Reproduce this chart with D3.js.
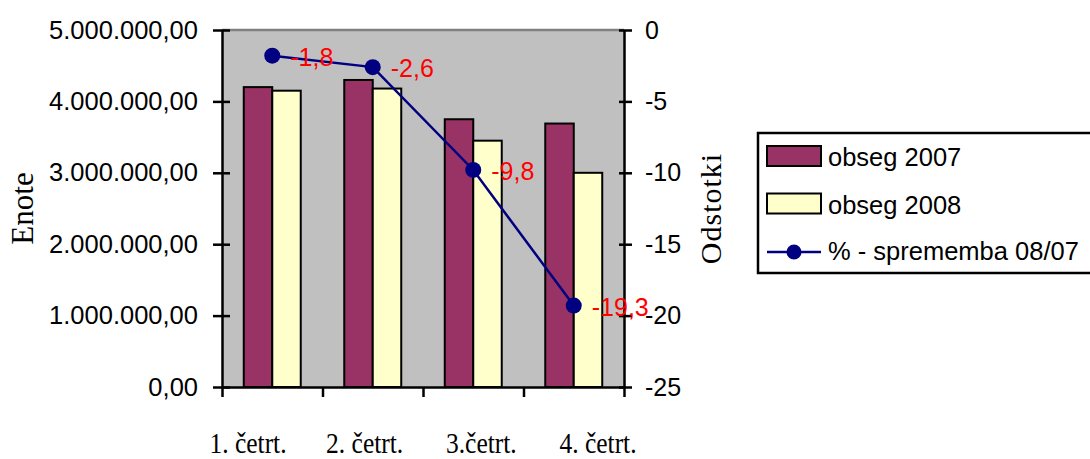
<!DOCTYPE html>
<html>
<head>
<meta charset="utf-8">
<script src="https://cdn.jsdelivr.net/npm/d3@7"></script>
<style>
  body { margin: 0; background: #fff; }
  svg { display: block; }
</style>
</head>
<body>
<svg width="1090" height="459"></svg>
<script>
var categories = ["1. četrt.", "2. četrt.", "3.četrt.", "4. četrt."];
var seriesNames = ["obseg 2007", "obseg 2008"];
var obseg2007 = [4200000, 4300000, 3750000, 3690000];
var obseg2008 = [4150000, 4180000, 3450000, 3000000];
var sprememba = [-1.8, -2.6, -9.8, -19.3];
var lineName = "% - sprememba 08/07";
var leftTicks = [0, 1000000, 2000000, 3000000, 4000000, 5000000];
var rightTicks = [0, -5, -10, -15, -20, -25];

var svg = d3.select("svg"),
    margin = {top: 30, left: 222, right: 466, bottom: 72},
    width = +svg.attr("width") - margin.left - margin.right,
    height = +svg.attr("height") - margin.top - margin.bottom;

var colors = ["#993366", "#ffffcc"];
var navy = "#000080";
var sans = "'Liberation Sans', Arial, sans-serif";
var serif = "'Liberation Serif', 'Times New Roman', serif";

var locale = d3.formatLocale({decimal: ",", thousands: ".", grouping: [3], currency: ["", ""], minus: "-"});
var fmtLeft = locale.format(",.2f");
var fmtPct = locale.format(".1f");

var x0 = d3.scaleBand().domain(categories).range([0, width])
    .paddingInner(0.433).paddingOuter(0.433 / 2);
var x1 = d3.scaleBand().domain(seriesNames).range([0, x0.bandwidth()]);
var xLine = d3.scaleLinear().domain([0, categories.length]).range([0, width]);
var xLabel = d3.scalePoint().domain(categories).range([26, 376]);
var y = d3.scaleLinear().domain([0, 5000000]).range([height, 0]);
var y2 = d3.scaleLinear().domain([-25, 0]).range([height, 0]);

var g = svg.append("g").attr("transform", "translate(" + margin.left + "," + margin.top + ")");

// plot area
g.append("rect")
    .attr("width", width)
    .attr("height", height)
    .attr("fill", "#c0c0c0");
g.append("line")
    .attr("x1", 0).attr("x2", width)
    .attr("stroke", "#808080").attr("stroke-width", 2.5);

// bars
var rows = categories.map(function(c, i) {
    return {cat: c, values: [obseg2007[i], obseg2008[i]]};
});
var groups = g.selectAll(".grp").data(rows).enter().append("g")
    .attr("class", "grp")
    .attr("transform", function(d) { return "translate(" + x0(d.cat) + ",0)"; });
groups.selectAll("rect")
    .data(function(d) { return d.values.map(function(v, j) { return {name: seriesNames[j], v: v, j: j}; }); })
    .enter().append("rect")
    .attr("x", function(d) { return x1(d.name); })
    .attr("y", function(d) { return y(d.v); })
    .attr("width", x1.bandwidth())
    .attr("height", function(d) { return height - y(d.v); })
    .attr("fill", function(d) { return colors[d.j]; })
    .attr("stroke", "#000")
    .attr("stroke-width", 2);

// left axis
var axL = g.append("g")
    .call(d3.axisLeft(y).tickValues(leftTicks).tickFormat(fmtLeft).tickSize(9).tickSizeOuter(0).tickPadding(15));
axL.select(".domain").attr("stroke-width", 2.5);
axL.selectAll(".tick line").attr("x1", 8).attr("stroke-width", 2.5);
axL.selectAll("text").attr("font-family", sans).attr("font-size", "25.5px").attr("fill", "#000");

// right axis
var axR = g.append("g")
    .attr("transform", "translate(" + width + ",0)")
    .call(d3.axisRight(y2).tickValues(rightTicks).tickFormat(function(d) { return String(d); })
        .tickSize(8).tickSizeOuter(0).tickPadding(13));
axR.select(".domain").attr("stroke-width", 2.5);
axR.selectAll(".tick line").attr("x1", -5).attr("stroke-width", 2.5);
axR.selectAll("text").attr("font-family", sans).attr("font-size", "25px").attr("fill", "#000");

// bottom axis
var axB = g.append("g")
    .attr("transform", "translate(0," + height + ")")
    .call(d3.axisBottom(xLine).tickValues(d3.range(categories.length + 1)).tickFormat("").tickSize(10).tickSizeOuter(0));
axB.select(".domain").attr("stroke-width", 2.5);
axB.selectAll(".tick line").attr("stroke-width", 2.5);

// category labels
g.selectAll(".catlab").data(categories).enter().append("text")
    .attr("class", "catlab")
    .attr("transform", function(d) { return "translate(" + xLabel(d) + "," + (height + 66) + ") scale(0.85,1)"; })
    .attr("text-anchor", "middle")
    .attr("font-family", serif)
    .attr("font-size", "30px")
    .text(function(d) { return d; });

// axis titles
svg.append("text")
    .attr("transform", "translate(22," + (margin.top + height / 2) + ") rotate(-90)")
    .attr("text-anchor", "middle")
    .attr("dominant-baseline", "central")
    .attr("font-family", serif)
    .attr("font-size", "31px")
    .text("Enote");
svg.append("text")
    .attr("transform", "translate(710," + (margin.top + height / 2) + ") rotate(-90)")
    .attr("text-anchor", "middle")
    .attr("dominant-baseline", "central")
    .attr("font-family", serif)
    .attr("font-size", "30px")
    .attr("letter-spacing", "1px")
    .text("Odstotki");

// line
var cx = function(i) { return x0(categories[i]) + x0.bandwidth() / 2; };
var line = d3.line()
    .x(function(d, i) { return cx(i); })
    .y(function(d) { return y2(d); });
g.append("path")
    .datum(sprememba)
    .attr("fill", "none")
    .attr("stroke", navy)
    .attr("stroke-width", 2.5)
    .attr("d", line);
g.selectAll(".pt").data(sprememba).enter().append("circle")
    .attr("class", "pt")
    .attr("cx", function(d, i) { return cx(i); })
    .attr("cy", function(d) { return y2(d); })
    .attr("r", 8)
    .attr("fill", navy);
g.selectAll(".lab").data(sprememba).enter().append("text")
    .attr("class", "lab")
    .attr("x", function(d, i) { return cx(i) + 18; })
    .attr("y", function(d) { return y2(d) + 10; })
    .attr("font-family", sans)
    .attr("font-size", "25px")
    .attr("fill", "#ff0000")
    .text(function(d) { return fmtPct(d); });

// legend
var lg = svg.append("g").attr("transform", "translate(758,133)");
lg.append("rect")
    .attr("width", 340).attr("height", 140)
    .attr("fill", "#fff").attr("stroke", "#000").attr("stroke-width", 2.5);
seriesNames.forEach(function(n, i) {
    var ly = 13 + i * 47.5;
    lg.append("rect")
        .attr("x", 9).attr("y", ly).attr("width", 54).attr("height", 20)
        .attr("fill", colors[i]).attr("stroke", "#000").attr("stroke-width", 2);
    lg.append("text")
        .attr("x", 70).attr("y", ly + 20)
        .attr("font-family", sans).attr("font-size", "25.5px")
        .text(n);
});
lg.append("line")
    .attr("x1", 9).attr("x2", 63).attr("y1", 119).attr("y2", 119)
    .attr("stroke", navy).attr("stroke-width", 2.5);
lg.append("circle")
    .attr("cx", 36).attr("cy", 119).attr("r", 7.5).attr("fill", navy);
lg.append("text")
    .attr("x", 70).attr("y", 127)
    .attr("font-family", sans).attr("font-size", "25.5px")
    .text(lineName);
</script>
</body>
</html>
